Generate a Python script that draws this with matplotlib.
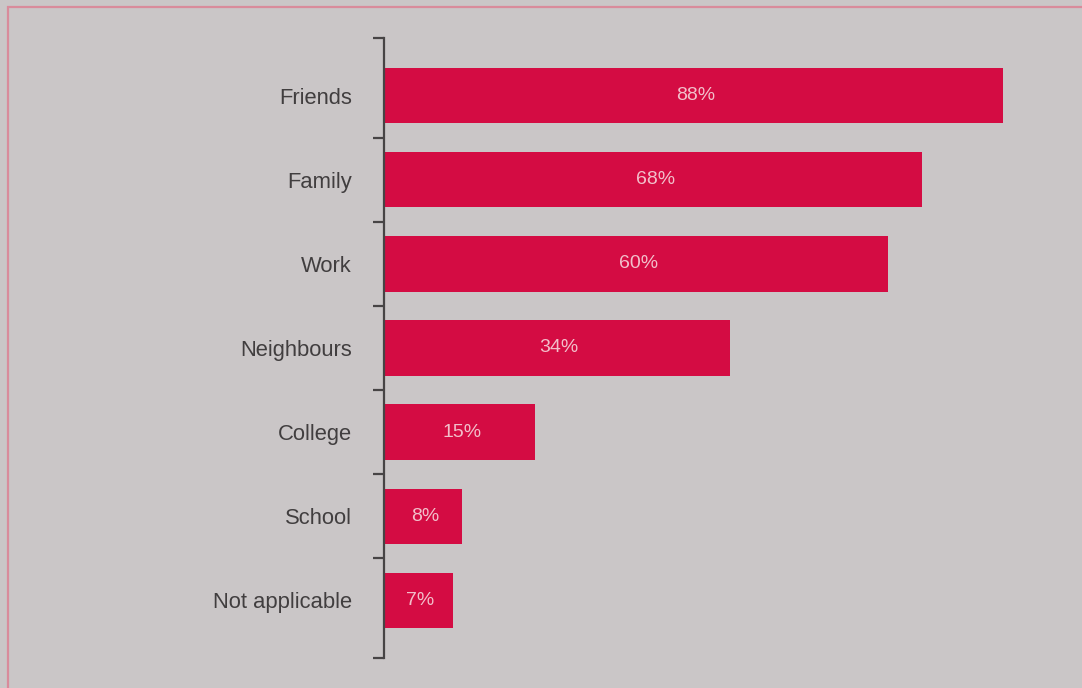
import matplotlib.pyplot as plt
from matplotlib.patches import Rectangle

categories = ['Friends', 'Family', 'Work', 'Neighbours', 'College', 'School', 'Not applicable']
labels = ['88%', '68%', '60%', '34%', '15%', '8%', '7%']
# bar lengths as drawn in the picture (not proportional to the printed %)
bar_lengths = [88, 76.6, 71.7, 49.2, 21.5, 11.1, 9.8]

bg = '#cac6c7'
bar_color = '#d40c43'

plt.rcParams['font.family'] = ['Liberation Sans', 'DejaVu Sans']

fig = plt.figure(figsize=(10.82, 6.88), dpi=100)
fig.patch.set_facecolor(bg)

# pink frame line round the panel
fig.patches.append(Rectangle((8 / 1082, -0.1), 1.2, 1 - 7 / 688 + 0.1,
                             transform=fig.transFigure, fill=False,
                             edgecolor='#d98b9b', linewidth=1.6))

ax = fig.add_axes([384 / 1082, 1 - 658 / 688, 1 - 384 / 1082, 620 / 688])
ax.set_facecolor('none')

ys = list(range(len(categories)))
ax.barh(ys, bar_lengths, height=0.655, color=bar_color, zorder=2)
for y, w, t in zip(ys, bar_lengths, labels):
    ax.text(w / 2 + 0.3, y, t, ha='center', va='center', color='#f2bfca',
            fontsize=14, zorder=3)

ax.set_xlim(0, 99.3)
ax.set_ylim(6.69, -0.69)

for s in ['top', 'right', 'bottom']:
    ax.spines[s].set_visible(False)
ax.spines['left'].set_color('#474445')
ax.spines['left'].set_linewidth(1.6)
ax.spines['left'].set_position(('data', 0))

ax.set_xticks([])
# boundary ticks (unlabelled) and category labels at bar centres
ax.set_yticks([-0.69] + [i + 0.5 for i in range(6)] + [6.69])
ax.set_yticklabels([])
ax.tick_params(axis='y', which='major', length=8, width=1.6, color='#474445', direction='out')
ax.set_yticks(ys, minor=True)
ax.set_yticklabels(categories, minor=True)
ax.tick_params(axis='y', which='minor', length=0, pad=23, labelsize=15.8, labelcolor='#413e3f')

fig.savefig('out.png', dpi=100, facecolor=bg)
